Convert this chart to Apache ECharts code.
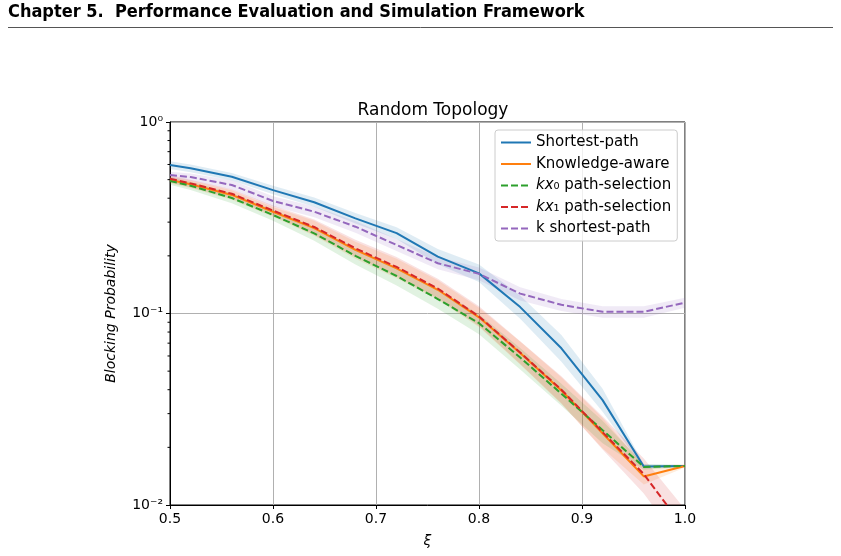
<!DOCTYPE html>
<html>
<head>
<meta charset="utf-8">
<script src="https://cdn.jsdelivr.net/npm/echarts@6/dist/echarts.min.js"></script>
<style>
  html, body { margin: 0; padding: 0; background: #fff; }
  #chart { width: 841px; height: 556px; }
</style>
</head>
<body>
<div id="chart"></div>
<script>
// x values (load ξ)
var xs = [0.5, 0.52, 0.56, 0.6, 0.64, 0.68, 0.72, 0.76, 0.8, 0.84, 0.88, 0.92, 0.96, 1.0];

// mean blocking probability per method
var shortestPath = [0.596, 0.573, 0.518, 0.441, 0.381, 0.314, 0.263, 0.198, 0.162, 0.108, 0.0658, 0.0353, 0.0159, 0.016];
var knowledgeAware = [0.498, 0.473, 0.416, 0.340, 0.279, 0.215, 0.172, 0.133, 0.0955, 0.0622, 0.0396, 0.0237, 0.0141, 0.016];
var kx0Sel = [0.492, 0.465, 0.401, 0.327, 0.262, 0.200, 0.157, 0.119, 0.089, 0.0589, 0.0381, 0.0246, 0.0158, 0.016];
var kx1Sel = [0.505, 0.478, 0.422, 0.345, 0.283, 0.219, 0.175, 0.135, 0.0965, 0.0625, 0.0400, 0.0240, 0.0145, 0.00745];
var kShortest = [0.529, 0.516, 0.469, 0.387, 0.340, 0.284, 0.228, 0.183, 0.161, 0.127, 0.111, 0.102, 0.102, 0.114];

// confidence bands (upper / lower)
var shortestHi = [0.624, 0.600, 0.542, 0.465, 0.403, 0.335, 0.282, 0.217, 0.180, 0.124, 0.0773, 0.0405, 0.0163, 0.0162];
var shortestLo = [0.569, 0.547, 0.495, 0.420, 0.361, 0.295, 0.245, 0.181, 0.146, 0.094, 0.056, 0.0307, 0.0155, 0.0158];
var knowledgeHi = [0.52, 0.495, 0.44, 0.36, 0.305, 0.237, 0.193, 0.149, 0.107, 0.0714, 0.0465, 0.0285, 0.016, 0.0163];
var knowledgeLo = [0.477, 0.452, 0.393, 0.32, 0.255, 0.193, 0.153, 0.118, 0.085, 0.0542, 0.0337, 0.0197, 0.0128, 0.0157];
var kx0Hi = [0.515, 0.488, 0.425, 0.348, 0.283, 0.219, 0.174, 0.134, 0.099, 0.066, 0.043, 0.0275, 0.0163, 0.0162];
var kx0Lo = [0.47, 0.442, 0.376, 0.305, 0.24, 0.18, 0.14, 0.106, 0.078, 0.051, 0.033, 0.021, 0.0153, 0.0158];
var kx1Hi = [0.528, 0.50, 0.445, 0.366, 0.31, 0.243, 0.197, 0.152, 0.109, 0.0716, 0.047, 0.029, 0.0175, 0.0095];
var kx1Lo = [0.483, 0.456, 0.4, 0.325, 0.258, 0.197, 0.156, 0.12, 0.086, 0.0545, 0.034, 0.0195, 0.0115, 0.0058];
var kShortHi = [0.55, 0.538, 0.496, 0.41, 0.362, 0.304, 0.245, 0.197, 0.174, 0.137, 0.119, 0.109, 0.109, 0.121];
var kShortLo = [0.508, 0.494, 0.444, 0.363, 0.318, 0.264, 0.212, 0.17, 0.149, 0.117, 0.103, 0.095, 0.095, 0.107];

// minor ticks of the log axis
var minorTicks = [0.02, 0.03, 0.04, 0.05, 0.06, 0.07, 0.08, 0.09, 0.2, 0.3, 0.4, 0.5, 0.6, 0.7, 0.8, 0.9];

var colors = ['#1f77b4', '#ff7f0e', '#2ca02c', '#d62728', '#9467bd'];

function pairs(ys) {
	return xs.map(function (x, i) { return [x, ys[i]]; });
}

function band(name, hi, lo, color) {
	return {
		name: name,
		type: 'custom',
		clip: true,
		silent: true,
		z: 1,
		data: [[0.75, 0.1]],
		renderItem: function (params, api) {
			var pts = [];
			for (var i = 0; i < xs.length; i++) pts.push(api.coord([xs[i], hi[i]]));
			for (var j = xs.length - 1; j >= 0; j--) pts.push(api.coord([xs[j], lo[j]]));
			return {
				type: 'polygon',
				shape: { points: pts },
				style: { fill: color, opacity: 0.14 }
			};
		}
	};
}

function line(name, ys, color, dashed) {
	return {
		name: name,
		type: 'line',
		data: pairs(ys),
		symbol: 'none',
		clip: true,
		z: 3,
		color: color,
		lineStyle: { color: color, width: 2, type: dashed ? [7, 3] : 'solid' }
	};
}

var supMap = { '0': '10⁰', '-1': '10⁻¹', '-2': '10⁻²' };

var mychart = echarts.init(document.getElementById('chart'));
var option = {
	animation: false,
	backgroundColor: '#fff',
	textStyle: { fontFamily: 'DejaVu Sans' },
	title: {
		text: 'Random Topology',
		left: 428,
		top: 97,
		textAlign: 'center',
		textStyle: { fontSize: 17, fontWeight: 'normal', color: '#000', fontFamily: 'DejaVu Sans' }
	},
	graphic: [
		{
			type: 'text',
			left: 8,
			top: 3,
			style: {
				text: 'Chapter 5.  Performance Evaluation and Simulation Framework',
				font: 'bold 18px "DejaVu Sans Condensed", "DejaVu Sans"',
				fill: '#000'
			}
		},
		{
			type: 'line',
			shape: { x1: 8, y1: 27.5, x2: 833, y2: 27.5 },
			style: { stroke: '#555', lineWidth: 1 }
		}
	],
	legend: {
		orient: 'vertical',
		left: 495,
		top: 130,
		data: ['Shortest-path', 'Knowledge-aware', 'kx0 path-selection', 'kx1 path-selection', 'k shortest-path'],
		itemWidth: 30,
		itemHeight: 14,
		itemGap: 6.5,
		padding: [5, 6, 5, 5],
		backgroundColor: 'rgba(255,255,255,0.8)',
		borderColor: '#ccc',
		borderWidth: 1,
		borderRadius: 3,
		itemStyle: { opacity: 0 },
		formatter: function (name) {
			if (name === 'kx0 path-selection') return '{i|kx}{n|₀ path-selection}';
			if (name === 'kx1 path-selection') return '{i|kx}{n|₁ path-selection}';
			return '{n|' + name + '}';
		},
		textStyle: {
			fontSize: 15,
			color: '#000',
			rich: {
				n: { fontSize: 15, color: '#000', fontFamily: 'DejaVu Sans' },
				i: { fontSize: 15, color: '#000', fontStyle: 'italic', fontFamily: 'DejaVu Sans' }
			}
		}
	},
	grid: {
		left: 170,
		right: 156,
		top: 122,
		bottom: 51,
		show: true,
		borderColor: '#000',
		borderWidth: 1,
		backgroundColor: 'transparent'
	},
	xAxis: {
		type: 'value',
		min: 0.5,
		max: 1.0,
		interval: 0.1,
		name: 'ξ',
		nameLocation: 'middle',
		nameGap: 29,
		nameTextStyle: { fontSize: 14, fontStyle: 'italic', color: '#000' },
		axisLine: { show: true, onZero: false, lineStyle: { color: '#000', width: 1 } },
		axisTick: { show: true, length: 4, lineStyle: { color: '#000' } },
		axisLabel: {
			fontSize: 14, color: '#000', margin: 7,
			formatter: function (v) { return v.toFixed(1); }
		},
		splitLine: { show: true, lineStyle: { color: '#b0b0b0', width: 1 } }
	},
	yAxis: {
		type: 'log',
		logBase: 10,
		min: 0.01,
		max: 1,
		interval: 1,
		name: 'Blocking Probability',
		nameLocation: 'middle',
		nameGap: 52,
		nameTextStyle: { fontSize: 14, fontStyle: 'italic', color: '#000' },
		axisLine: { show: true, lineStyle: { color: '#000', width: 1 } },
		axisTick: { show: true, length: 4, lineStyle: { color: '#000' } },
		axisLabel: {
			fontSize: 14, color: '#000', margin: 7,
			formatter: function (v) {
				var e = Math.round(Math.log10(v));
				return supMap[String(e)] || '';
			}
		},
		splitLine: { show: true, lineStyle: { color: '#b0b0b0', width: 1 } }
	},
	series: [
		band('band-sp', shortestHi, shortestLo, colors[0]),
		band('band-ka', knowledgeHi, knowledgeLo, colors[1]),
		band('band-kx0', kx0Hi, kx0Lo, colors[2]),
		band('band-kx1', kx1Hi, kx1Lo, colors[3]),
		band('band-ksp', kShortHi, kShortLo, colors[4]),
		line('Shortest-path', shortestPath, colors[0], false),
		line('Knowledge-aware', knowledgeAware, colors[1], false),
		line('kx0 path-selection', kx0Sel, colors[2], true),
		line('kx1 path-selection', kx1Sel, colors[3], true),
		line('k shortest-path', kShortest, colors[4], true),
		{
			name: 'minor-ticks',
			type: 'custom',
			clip: false,
			silent: true,
			z: 4,
			data: minorTicks.map(function (v) { return [0.5, v]; }),
			renderItem: function (params, api) {
				var p = api.coord([api.value(0), api.value(1)]);
				return {
					type: 'line',
					shape: { x1: p[0] - 2.5, y1: p[1], x2: p[0], y2: p[1] },
					style: { stroke: '#000', lineWidth: 1 }
				};
			}
		}
	]
};
mychart.setOption(option);
</script>
</body>
</html>
